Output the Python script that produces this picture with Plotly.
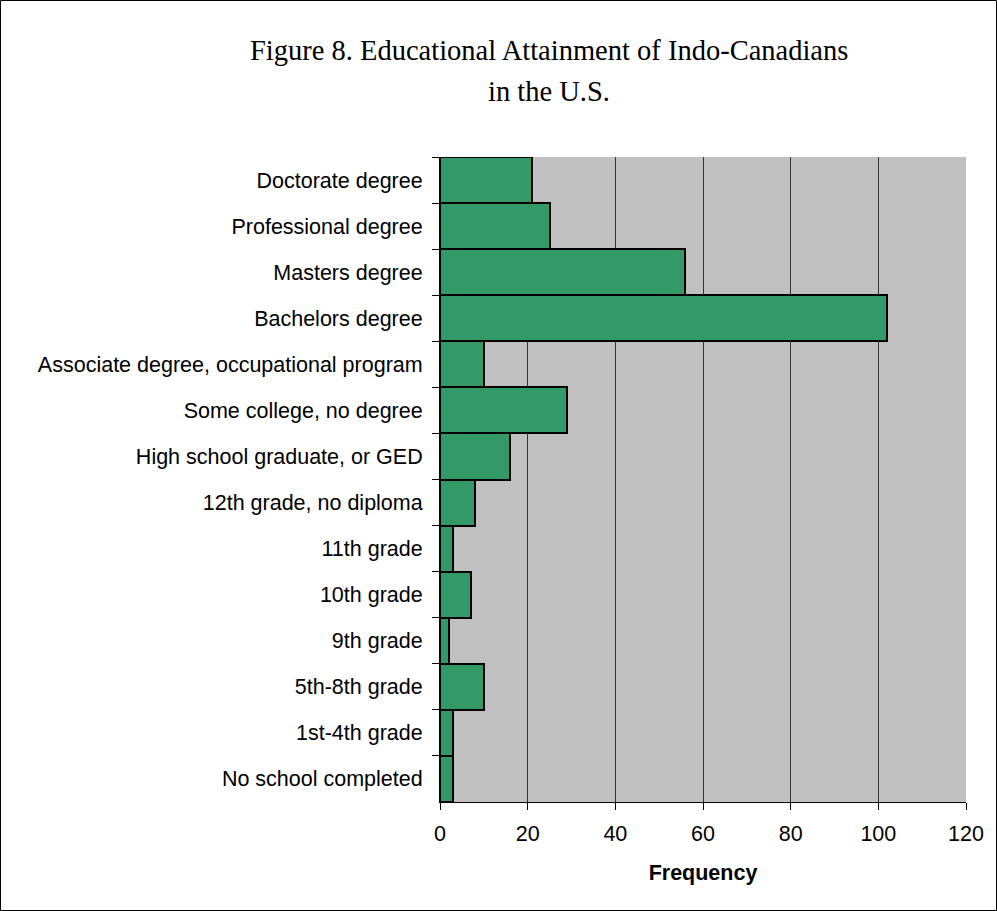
import plotly.graph_objects as go

categories = [
    "Doctorate degree",
    "Professional degree",
    "Masters degree",
    "Bachelors degree",
    "Associate degree, occupational program",
    "Some college, no degree",
    "High school graduate, or GED",
    "12th grade, no diploma",
    "11th grade",
    "10th grade",
    "9th grade",
    "5th-8th grade",
    "1st-4th grade",
    "No school completed",
]
frequency = [21, 25, 56, 102, 10, 29, 16, 8, 3, 7, 2, 10, 3, 3]
x_ticks = [0, 20, 40, 60, 80, 100, 120]
title_lines = ["Figure 8. Educational Attainment of Indo-Canadians", "in the U.S."]

W, H = 997, 911
ml, mr, mt, mb = 440, 31, 157, 109
pw, ph = W - ml - mr, H - mt - mb

def px_x(p):
    return (p - ml) / pw

def px_y(p):
    return (H - mb - p) / ph

fig = go.Figure(go.Bar(
    x=frequency, y=categories, orientation="h",
    marker=dict(color="#339966", line=dict(color="black", width=2)),
))

fig.update_layout(
    width=W, height=H,
    margin=dict(l=ml, r=mr, t=mt, b=mb),
    paper_bgcolor="white", plot_bgcolor="#C0C0C0",
    bargap=0, showlegend=False,
    font=dict(family="Liberation Sans, Arial", size=21.5, color="black"),
)
fig.update_xaxes(
    range=[0, 120], tickvals=x_ticks, showgrid=True, gridcolor="#333333", gridwidth=1,
    showline=True, linecolor="black", linewidth=1, ticks="outside", ticklen=7,
    tickcolor="black", zeroline=False, ticklabelstandoff=5,
    title=dict(text="<b>Frequency</b>", font=dict(size=21.5), standoff=20),
)
fig.update_yaxes(
    autorange="reversed", showgrid=False, showline=True, linecolor="black", linewidth=1,
    ticks="outside", ticklen=7, tickcolor="black", tickson="boundaries",
    ticklabelstandoff=12,
)
for line, yc in zip(title_lines, [51, 91]):
    fig.add_annotation(
        text=line, xref="paper", yref="paper", x=px_x(549), y=px_y(yc),
        xanchor="center", yanchor="middle", showarrow=False,
        font=dict(family="Liberation Serif, Times New Roman", size=28.5, color="black"),
    )
fig.add_shape(
    type="rect", xref="paper", yref="paper",
    x0=px_x(0.5), x1=px_x(996.5), y0=px_y(910.5), y1=px_y(0.5),
    line=dict(color="black", width=1), layer="above",
)
fig.write_html("out.html")
